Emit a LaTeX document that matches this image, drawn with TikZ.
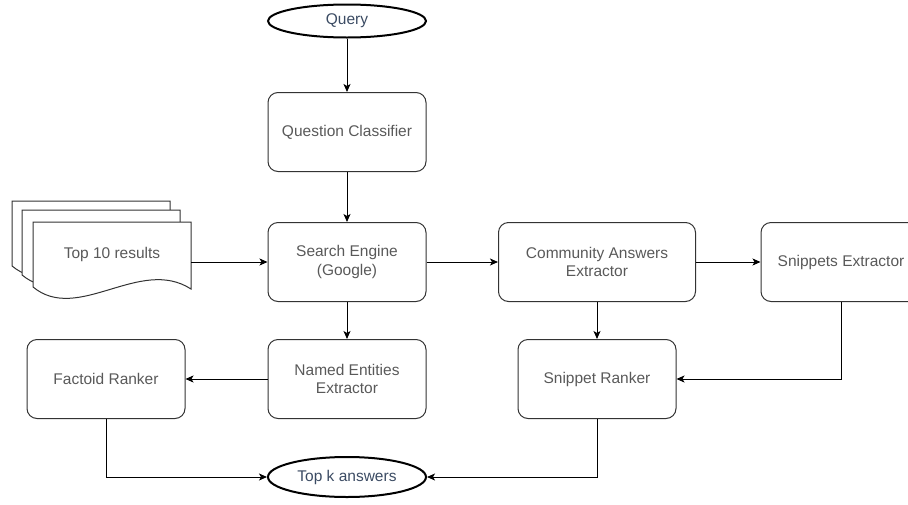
\documentclass[tikz,border=0pt]{standalone}
\usepackage{fontspec}
\setmainfont{Liberation Sans}
\usetikzlibrary{arrows.meta,shapes.geometric}
\definecolor{boxtext}{HTML}{595959}
\definecolor{termtext}{HTML}{3B4B63}
\definecolor{boxline}{HTML}{333333}

\begin{document}
\begin{tikzpicture}
[x=1pt,y=-1pt,>={Stealth[length=8pt,width=7pt,inset=2pt]},
link/.style={->,line width=1pt,draw=black},
block/.style={rectangle,rounded corners=10pt,draw=boxline,line width=1pt,
  minimum width=158pt,minimum height=79pt,align=center,text=boxtext,
  font=\fontsize{15.5}{18.5}\selectfont},
term/.style={ellipse,draw=black,line width=2pt,inner sep=0pt,
  minimum width=158pt,text=termtext,font=\fontsize{15.5}{18.5}\selectfont},
page/.style={draw=boxline,fill=white,line width=1pt}]
\clip (0,0) rectangle (908,504);

% the stack of result pages
\foreach \dx/\dy in {-21/-21,-11/-12,0/0}
  \draw[page,shift={(\dx,\dy)}] (33,222) -- (191,222) -- (191,289)
    .. controls (140,256) and (78,324) .. (33,287) -- cycle;

\node[term,minimum height=33pt] at (347,21)  (query) {Query};
\node[block] at (347,132) (qc)  {Question Classifier};
\node[rectangle,minimum width=158pt,minimum height=60pt,text=boxtext,
  font=\fontsize{15.5}{18.5}\selectfont] at (112,254) (top10) {Top 10 results};
\node[block] at (347,262) (se)  {Search Engine\\(Google)};
\node[block,minimum width=197pt] at (597,262) (cae) {Community Answers\\Extractor};
\node[block,minimum width=160pt] at (841,262) (snip) {Snippets Extractor};
\node[block] at (347,379) (nee) {Named Entities\\Extractor};
\node[block] at (106,379) (fr)  {Factoid Ranker};
\node[block] at (597,379) (sr)  {Snippet Ranker};
\node[term,minimum height=40pt] at (347,477) (topk) {Top k answers};

\draw[link] (query) -- (qc);
\draw[link] (qc) -- (se);
\draw[link] (top10.east |- se.west) -- (se.west);
\draw[link] (se) -- (cae);
\draw[link] (cae) -- (snip);
\draw[link] (se) -- (nee);
\draw[link] (nee) -- (fr);
\draw[link] (cae) -- (sr);
\draw[link] (snip.south) |- (sr.east);
\draw[link] (fr.south) |- (topk.west);
\draw[link] (sr.south) |- (topk.east);
\end{tikzpicture}
\end{document}
